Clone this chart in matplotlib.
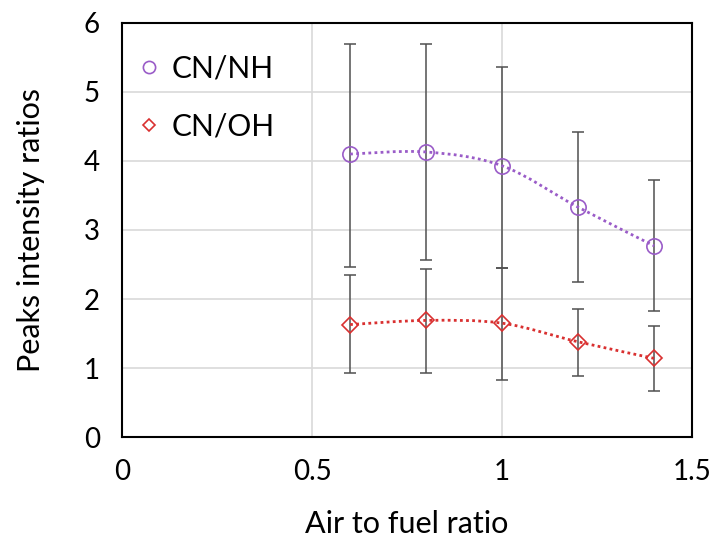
import matplotlib
matplotlib.use("Agg")
import matplotlib.pyplot as plt
import numpy as np
from matplotlib.path import Path
from matplotlib.patches import PathPatch

plt.rcParams['font.family'] = ['Lato', 'DejaVu Sans']

x = [0.6, 0.8, 1.0, 1.2, 1.4]
nh = [4.10, 4.13, 3.93, 3.33, 2.77]
nh_hi = [5.69, 5.69, 5.36, 4.42, 3.73]
nh_lo = [2.46, 2.56, 2.45, 2.25, 1.83]
oh = [1.63, 1.69, 1.65, 1.38, 1.14]
oh_hi = [2.35, 2.44, 2.45, 1.86, 1.61]
oh_lo = [0.93, 0.93, 0.83, 0.89, 0.67]

xticks = [0, 0.5, 1, 1.5]
xticklabels = ['0', '0.5', '1', '1.5']
yticks = [0, 1, 2, 3, 4, 5, 6]

purple = '#9A5CC8'
red = '#D93030'
errc = '#505050'

fig = plt.figure(figsize=(7.18, 5.45), dpi=100)
ax = fig.add_axes([0.170, 0.198, 0.794, 0.760])


def smooth_path(xs, ys, t=1/6):
    xs = np.asarray(xs, float); ys = np.asarray(ys, float)
    n = len(xs)
    verts = [(xs[0], ys[0])]
    codes = [Path.MOVETO]
    for i in range(n - 1):
        p0 = (xs[max(i - 1, 0)], ys[max(i - 1, 0)])
        p1 = (xs[i], ys[i])
        p2 = (xs[i + 1], ys[i + 1])
        p3 = (xs[min(i + 2, n - 1)], ys[min(i + 2, n - 1)])
        c1 = (p1[0] + (p2[0] - p0[0]) * t, p1[1] + (p2[1] - p0[1]) * t)
        c2 = (p2[0] - (p3[0] - p1[0]) * t, p2[1] - (p3[1] - p1[1]) * t)
        verts += [c1, c2, p2]
        codes += [Path.CURVE4] * 3
    return Path(verts, codes)


for ys, lo, hi, col, mk, ms, lab in [
    (nh, nh_lo, nh_hi, purple, 'o', 11, 'CN/NH'),
    (oh, oh_lo, oh_hi, red, 'D', 8, 'CN/OH'),
]:
    yerr = [np.array(ys) - np.array(lo), np.array(hi) - np.array(ys)]
    ax.errorbar(x, ys, yerr=yerr, fmt='none', ecolor=errc, elinewidth=1.1,
                capsize=4, capthick=1.1, zorder=3)
    ax.add_patch(PathPatch(smooth_path(x, ys), fill=False, edgecolor=col,
                           linestyle=(0, (1, 1.2)), linewidth=2, zorder=4))
    ax.plot(x, ys, linestyle='none', marker=mk, markersize=ms,
            markerfacecolor='none', markeredgecolor=col, markeredgewidth=1.2,
            label=lab, zorder=5)

ax.set_xlim(0, 1.5)
ax.set_ylim(0, 6)
ax.set_xticks(xticks)
ax.set_xticklabels(xticklabels)
ax.set_yticks(yticks)
ax.grid(True, color='#D9D9D9', linewidth=1.2)
ax.set_axisbelow(True)
ax.tick_params(length=0, labelsize=20, pad=16)
for s in ax.spines.values():
    s.set_color('#000000')
    s.set_linewidth(1.5)

ax.set_xlabel('Air to fuel ratio', fontsize=22, labelpad=18)
ax.set_ylabel('Peaks intensity ratios', fontsize=22, labelpad=28)

leg = ax.legend(loc='upper left', frameon=False, fontsize=21.5, markerscale=0.8,
                handlelength=0.6, handletextpad=0.45, labelspacing=1.0,
                borderpad=0.2, bbox_to_anchor=(-0.005, 0.975))

fig.savefig('out.png', dpi=100)
